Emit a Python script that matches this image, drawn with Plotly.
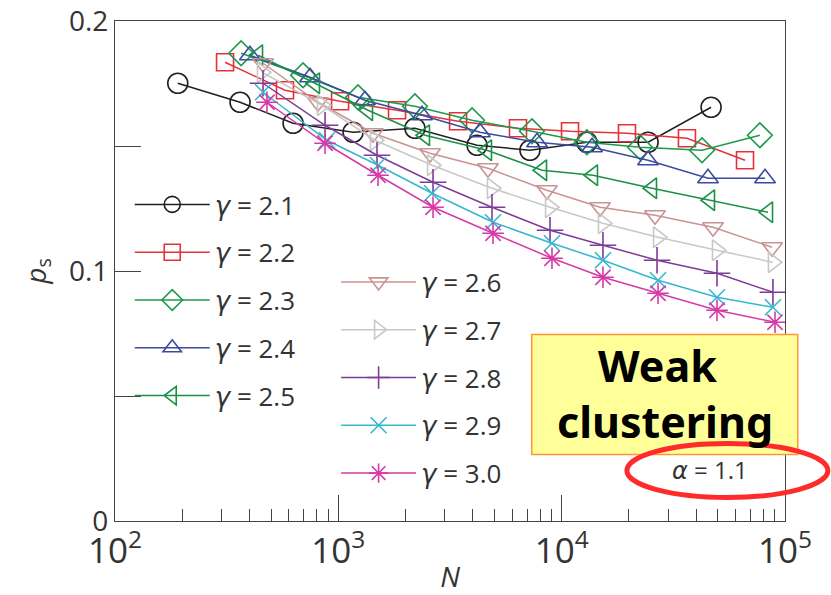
import plotly.graph_objects as go

gammas = ["2.1", "2.2", "2.3", "2.4", "2.5", "2.6", "2.7", "2.8", "2.9", "3.0"]

N_21 = [191, 363, 627, 1164, 2203, 4179, 7211, 12970, 24380, 46670]
p_21 = [0.1751, 0.1675, 0.1591, 0.1555, 0.1571, 0.1503, 0.1483, 0.1515, 0.1515, 0.1655]

N_22 = [311, 577, 1018, 1832, 3437, 6375, 10900, 19610, 36390, 66220]
p_22 = [0.1835, 0.1723, 0.1679, 0.1643, 0.1599, 0.1571, 0.1559, 0.1551, 0.1531, 0.1443]

N_23 = [367, 695, 1225, 2203, 3970, 7360, 12970, 22430, 42500, 77200]
p_23 = [0.1871, 0.1783, 0.1695, 0.1659, 0.1603, 0.1559, 0.1515, 0.1495, 0.1483, 0.1543]

N_24 = [402, 747, 1315, 2370, 4303, 7757, 13680, 24360, 45220, 81400]
p_24 = [0.1863, 0.1775, 0.1683, 0.1623, 0.1555, 0.1515, 0.1495, 0.1443, 0.1371, 0.1371]

N_25 = [437, 786, 1358, 2443, 4631, 8168, 13810, 25380, 46150, 83950]
p_25 = [0.1863, 0.1751, 0.1643, 0.1543, 0.1483, 0.1403, 0.1383, 0.1331, 0.1283, 0.1235]

N_26 = [460, 811, 1430, 2573, 4677, 8590, 14860, 26180, 47620, 87500]
p_26 = [0.1831, 0.1675, 0.1551, 0.1471, 0.1411, 0.1323, 0.1255, 0.1223, 0.1175, 0.1095]

N_27 = [455, 845, 1459, 2628, 4875, 8870, 15310, 27010, 49600, 88310]
p_27 = [0.1795, 0.1663, 0.1523, 0.1423, 0.1331, 0.1255, 0.1191, 0.1135, 0.1083, 0.1035]

N_28 = [460, 872, 1490, 2655, 4875, 8870, 15310, 26730, 49600, 88310]
p_28 = [0.1751, 0.1583, 0.1463, 0.1355, 0.1255, 0.1163, 0.1103, 0.1043, 0.0991, 0.0915]

N_29 = [460, 889, 1506, 2628, 4928, 9050, 15310, 27010, 49600, 88310]
p_29 = [0.1715, 0.1523, 0.1423, 0.1311, 0.1195, 0.1111, 0.1043, 0.0963, 0.0895, 0.0855]

N_30 = [479, 872, 1506, 2655, 4928, 9050, 15310, 27010, 49600, 90200]
p_30 = [0.1675, 0.1511, 0.1383, 0.1255, 0.1151, 0.1051, 0.0975, 0.0911, 0.0843, 0.0795]

N_all = [N_21, N_22, N_23, N_24, N_25, N_26, N_27, N_28, N_29, N_30]
p_all = [p_21, p_22, p_23, p_24, p_25, p_26, p_27, p_28, p_29, p_30]

colors = ["#231f20", "#e5323a", "#1d9a4b", "#3b4ba0", "#1b9148",
          "#c99393", "#c8c8c8", "#7d3c98", "#35b7ce", "#d63aa6"]
symbols = ["circle-open", "square-open", "diamond-open", "triangle-up-open",
           "triangle-left-open", "triangle-down-open", "triangle-right-open",
           "cross-thin-open", "x-thin-open", "asterisk-open"]
sizes = [20, 17, 19, 18, 18, 18, 18, 19, 16, 18]

FONT = "Open Sans"
TXT = "#333333"
GAMMA = "<span style=\"font-family:'DejaVu Sans'\"><i>γ</i></span>"
ALPHA = "<span style=\"font-family:'DejaVu Sans'\"><i>α</i></span>"

fig = go.Figure()
for i, g in enumerate(gammas):
    fig.add_trace(go.Scatter(
        x=N_all[i], y=p_all[i], mode="lines+markers",
        name=GAMMA + " = " + g,
        legend="legend" if i < 5 else "legend2",
        legendgroup="g" + g,
        line=dict(color=colors[i], width=1.5),
        marker=dict(symbol=symbols[i], size=sizes[i], color=colors[i],
                    line=dict(color=colors[i], width=1.6)),
    ))

legend_common = dict(
    font=dict(family=FONT, size=26, color=TXT),
    bgcolor="rgba(0,0,0,0)", borderwidth=0,
    tracegroupgap=11, itemwidth=75, traceorder="grouped",
    xanchor="left", yanchor="top",
)

fig.update_layout(
    width=831, height=595,
    margin=dict(l=115, r=46, t=21, b=74),
    paper_bgcolor="white", plot_bgcolor="white",
    font=dict(family=FONT, color=TXT),
    showlegend=True,
    legend=dict(x=0.022, y=0.68, **legend_common),
    legend2=dict(x=0.33, y=0.525, **legend_common),
    xaxis=dict(
        type="log", range=[2, 5], tickmode="linear", tick0=0, dtick=1,
        exponentformat="power", showexponent="all", automargin=False,
        ticks="inside", ticklen=26, tickwidth=1.2, tickcolor="#444",
        minor=dict(dtick="D1", ticks="inside", ticklen=12, tickwidth=1.2,
                   tickcolor="#444", showgrid=False),
        showline=True, linecolor="#444", linewidth=1.3, mirror=True,
        showgrid=False, zeroline=False,
        tickfont=dict(family=FONT, size=28, color=TXT),
        title=dict(text="<i>N</i>", font=dict(family=FONT, size=28, color=TXT),
                   standoff=10),
    ),
    yaxis=dict(
        range=[0, 0.2], tickmode="linear", tick0=0, dtick=0.1, automargin=False,
        ticks="inside", ticklen=26, tickwidth=1.2, tickcolor="#444",
        minor=dict(dtick=0.05, ticks="inside", ticklen=26, tickwidth=1.2,
                   tickcolor="#444", showgrid=False),
        showline=True, linecolor="#444", linewidth=1.3, mirror=True,
        showgrid=False, zeroline=False,
        tickfont=dict(family=FONT, size=28, color=TXT),
        title=dict(text="<i>p</i><sub>s</sub>", font=dict(family=FONT, size=28, color=TXT),
                   standoff=14),
    ),
)

# Highlight box
fig.add_shape(type="rect", xref="paper", yref="paper",
              x0=0.622, x1=1.019, y0=0.133, y1=0.373,
              fillcolor="#ffff99", line=dict(color="#ff9633", width=1.5), layer="above")
fig.add_annotation(xref="paper", yref="paper", x=0.809, y=0.311,
                   xanchor="center", yanchor="middle",
                   text="<b>Weak</b>", showarrow=False,
                   font=dict(family="Noto Sans", size=43, color="black"))
fig.add_annotation(xref="paper", yref="paper", x=0.821, y=0.200,
                   xanchor="center", yanchor="middle",
                   text="<b>clustering</b>", showarrow=False,
                   font=dict(family="Noto Sans", size=43, color="black"))
fig.add_annotation(xref="paper", yref="paper", x=0.888, y=0.103,
                   xanchor="center", yanchor="middle",
                   text=ALPHA + " = 1.1", showarrow=False,
                   font=dict(family=FONT, size=24, color=TXT))
fig.add_shape(type="circle", xref="paper", yref="paper",
              x0=0.764, x1=1.064, y0=0.047, y1=0.155,
              line=dict(color="#ff2b2b", width=5), layer="above")

fig.write_html("out.html")
